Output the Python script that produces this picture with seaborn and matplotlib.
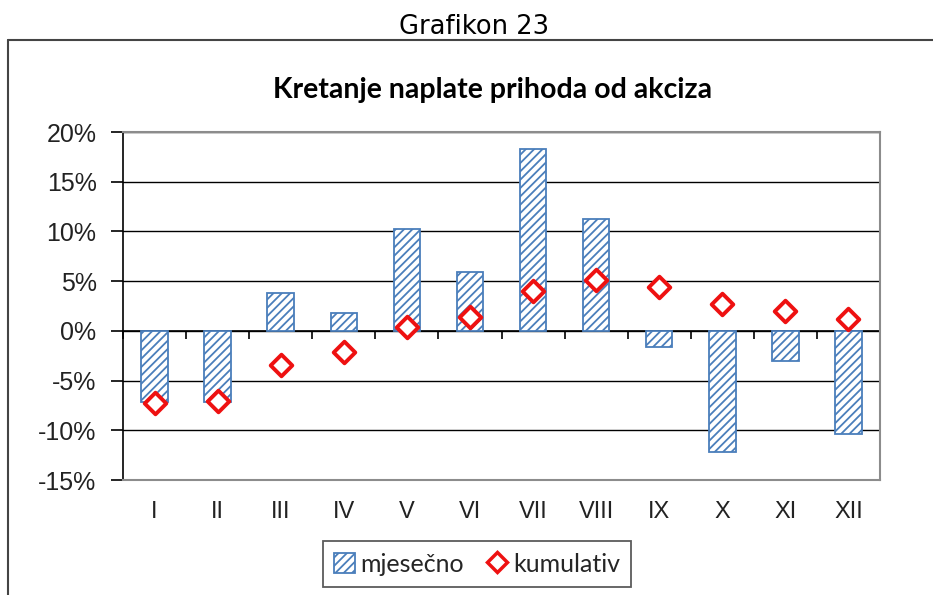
import matplotlib
matplotlib.use("Agg")
import matplotlib.pyplot as plt
import numpy as np
import seaborn as sns
from matplotlib.patches import Patch
from matplotlib.lines import Line2D
from matplotlib.ticker import FuncFormatter

# Data (percent)
months = ['I', 'II', 'III', 'IV', 'V', 'VI', 'VII', 'VIII', 'IX', 'X', 'XI', 'XII']
mjesecno = [-7.2, -7.2, 3.8, 1.8, 10.2, 5.9, 18.3, 11.3, -1.6, -12.2, -3.0, -10.4]
kumulativ = [-7.3, -7.1, -3.4, -2.1, 0.4, 1.4, 4.0, 5.1, 4.4, 2.7, 2.0, 1.2]
y_ticks = [-15, -10, -5, 0, 5, 10, 15, 20]

bar_blue = '#4a7ebb'
diamond_red = '#ee1111'

sns.set_style('white')
plt.rcParams['font.family'] = ['Liberation Sans', 'DejaVu Sans']
plt.rcParams['hatch.linewidth'] = 1.3

fig = plt.figure(figsize=(9.33, 5.95), dpi=100)
ax = fig.add_axes([123 / 933, 1 - 480 / 595, (880 - 123) / 933, (480 - 132) / 595])

# Monthly bars
sns.barplot(x=months, y=mjesecno, order=months, color=bar_blue, width=0.42, ax=ax, zorder=2)
for bar in ax.patches:
    bar.set_facecolor('white')
    bar.set_edgecolor(bar_blue)
    bar.set_hatch('////')
    bar.set_linewidth(1.3)

# Cumulative diamonds
sns.stripplot(x=months, y=kumulativ, order=months, jitter=False, marker='D', size=11,
              color='white', edgecolor=diamond_red, linewidth=2.8, ax=ax, zorder=4)

ax.set_xlim(-0.5, len(months) - 0.5)
ax.set_ylim(-15, 20)
ax.set_yticks(y_ticks)
ax.yaxis.set_major_formatter(FuncFormatter(lambda v, p: f'{v:.0f}%'))
ax.grid(axis='y', color='black', linewidth=1, zorder=0)
ax.set_axisbelow(True)
ax.set_xlabel('')
ax.set_ylabel('')

for side in ['top', 'right', 'bottom']:
    ax.spines[side].set_color('#8c8c8c')
    ax.spines[side].set_linewidth(1.5)
ax.spines['left'].set_color('black')
ax.spines['left'].set_linewidth(1.2)

ax.tick_params(axis='y', direction='out', length=9, width=1.2, color='black',
               labelcolor='#222222', labelsize=18, pad=10, left=True)
ax.tick_params(axis='x', length=0, labelsize=17, pad=15, labelcolor='#222222')

# Category axis along the zero line, with boundary tick marks
zero_frac = (0 - (-15)) / (20 - (-15))
sec = ax.secondary_xaxis(zero_frac)
sec.set_xticks(np.arange(-0.5, len(months), 1.0))
sec.set_xticklabels([])
sec.tick_params(direction='out', length=6, width=1.2, color='black')
sec.spines['bottom'].set_color('black')
sec.spines['bottom'].set_linewidth(1.2)

# Titles
fig.text(474 / 933, 1 - 27 / 595, 'Grafikon 23', ha='center', va='center',
         fontsize=18.5, family=['DejaVu Sans'], color='black')
fig.text(493 / 933, 1 - 90 / 595, 'Kretanje naplate prihoda od akciza', ha='center',
         va='center', fontsize=20.5, fontweight='bold', family=['Lato', 'DejaVu Sans'],
         color='black')

# Outer chart frame (left and top edges visible)
fig.add_artist(Line2D([8 / 933, 8 / 933], [0, 1 - 40 / 595], color='#444444',
                      linewidth=1.5, transform=fig.transFigure))
fig.add_artist(Line2D([8 / 933, 1], [1 - 40 / 595, 1 - 40 / 595], color='#444444',
                      linewidth=1.5, transform=fig.transFigure))

# Legend
handles = [
    Patch(facecolor='white', edgecolor=bar_blue, hatch='////', linewidth=1.3),
    Line2D([], [], marker='D', linestyle='none', markersize=10,
           markerfacecolor='white', markeredgecolor=diamond_red, markeredgewidth=2.5),
]
leg = fig.legend(handles, ['mjesečno', 'kumulativ'], loc='center',
                 bbox_to_anchor=(477 / 933, 1 - 564 / 595), ncol=2, frameon=True,
                 fancybox=False, handlelength=0.85, handleheight=0.85, handletextpad=0.2,
                 columnspacing=0.9, borderpad=0.45,
                 prop={'family': ['Lato', 'DejaVu Sans'], 'size': 18})
leg.get_frame().set_edgecolor('#333333')
leg.get_frame().set_linewidth(1.3)

fig.savefig('out.png', dpi=100, facecolor='white')
